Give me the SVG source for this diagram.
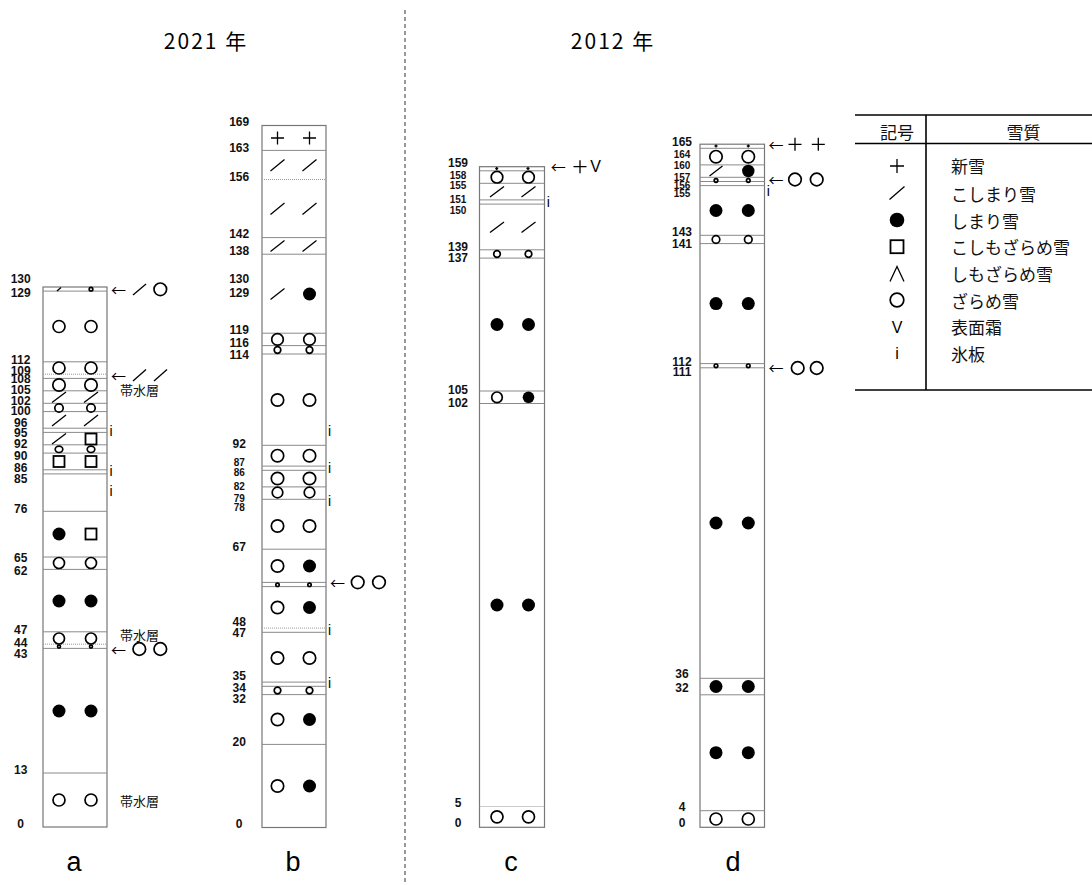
<svg xmlns="http://www.w3.org/2000/svg" width="1092" height="885" viewBox="0 0 1092 885">
<style>
.box{fill:none;stroke:#777;stroke-width:1.2}
.ln{stroke:#8a8a8a;stroke-width:1}
.dt{stroke:#999;stroke-width:1;stroke-dasharray:1 1}
.o{fill:none;stroke:#000;stroke-width:1.7}
.f{fill:#000}
.s{stroke:#000;stroke-width:1.3;fill:none}
.sq{fill:none;stroke:#000;stroke-width:1.8}
.lb{font-family:"Liberation Sans",Arial,sans-serif;font-size:12px;font-weight:bold;text-anchor:middle;dominant-baseline:central;fill:#111}
.sm{font-size:10px}
.jp{font-family:"Noto Sans CJK JP",sans-serif;dominant-baseline:central;fill:#111}
.ar{font-family:"Noto Sans CJK JP",sans-serif;font-size:15px;text-anchor:middle;dominant-baseline:central}
.ii{font-family:"Liberation Sans",Arial,sans-serif;font-size:14px;text-anchor:middle;dominant-baseline:central}
.big{font-family:"Liberation Sans",Arial,sans-serif;font-size:27px;text-anchor:middle}
.tt{font-family:"Noto Sans CJK JP",sans-serif;font-size:21px;letter-spacing:2px;text-anchor:middle;dominant-baseline:central}
.tb{stroke:#000;stroke-width:1.6}
</style>
<rect width="1092" height="885" fill="#fff"/>

<g id="titles">
<text class="tt" x="206" y="40">2021 年</text>
<text class="tt" x="613" y="40">2012 年</text>
<line x1="405" y1="10" x2="405" y2="885" stroke="#333" stroke-width="1" stroke-dasharray="4 3"/>
</g>

<g id="col-a">
<rect class="box" x="43" y="287" width="64" height="540"/>
<line class="ln" x1="43" x2="107" y1="291.1" y2="291.1"/>
<line class="ln" x1="43" x2="107" y1="361.8" y2="361.8"/>
<line class="dt" x1="43" x2="107" y1="374.2" y2="374.2"/>
<line class="ln" x1="43" x2="107" y1="378.4" y2="378.4"/>
<line class="ln" x1="43" x2="107" y1="390.8" y2="390.8"/>
<line class="ln" x1="43" x2="107" y1="403.3" y2="403.3"/>
<line class="ln" x1="43" x2="107" y1="411.6" y2="411.6"/>
<line class="ln" x1="43" x2="107" y1="428.2" y2="428.2"/>
<line class="ln" x1="43" x2="107" y1="432.4" y2="432.4"/>
<line class="ln" x1="43" x2="107" y1="444.8" y2="444.8"/>
<line class="ln" x1="43" x2="107" y1="453.1" y2="453.1"/>
<line class="ln" x1="43" x2="107" y1="469.8" y2="469.8"/>
<line class="ln" x1="43" x2="107" y1="473.9" y2="473.9"/>
<line class="ln" x1="43" x2="107" y1="511.3" y2="511.3"/>
<line class="ln" x1="43" x2="107" y1="557" y2="557"/>
<line class="ln" x1="43" x2="107" y1="569.4" y2="569.4"/>
<line class="ln" x1="43" x2="107" y1="631.8" y2="631.8"/>
<line class="dt" x1="43" x2="107" y1="644.2" y2="644.2"/>
<line class="ln" x1="43" x2="107" y1="648.4" y2="648.4"/>
<line class="ln" x1="43" x2="107" y1="773" y2="773"/>
<line class="s" x1="57" y1="291" x2="61" y2="287.5" stroke-width="0.8"/>
<circle class="o" cx="91" cy="289.2" r="1.8" stroke-width="0.8"/>
<circle class="o" cx="59" cy="326.5" r="6"/><circle class="o" cx="91" cy="326.5" r="6"/>
<circle class="o" cx="59" cy="368" r="6"/><circle class="o" cx="91" cy="368" r="6"/>
<circle class="o" cx="59" cy="385" r="6.2"/><circle class="o" cx="91" cy="385" r="6.2"/>
<line class="s" x1="52" y1="402.5" x2="66" y2="392"/><line class="s" x1="84" y1="402.5" x2="98" y2="392"/>
<circle class="o" cx="59" cy="408" r="4.2"/><circle class="o" cx="91" cy="408" r="4.2"/>
<line class="s" x1="52" y1="426" x2="66" y2="415"/><line class="s" x1="84" y1="426" x2="98" y2="415"/>
<line class="s" x1="52" y1="444" x2="66" y2="433.5"/>
<rect class="sq" x="85.5" y="433.5" width="11" height="11"/>
<ellipse class="o" cx="59" cy="449.3" rx="3.8" ry="3.2" stroke-width="1.4"/><ellipse class="o" cx="91" cy="449.3" rx="3.8" ry="3.2" stroke-width="1.4"/>
<rect class="sq" x="53.5" y="456" width="11" height="11"/><rect class="sq" x="85.5" y="456" width="11" height="11"/>
<circle class="f" cx="59" cy="534" r="6.5"/>
<rect class="sq" x="85.5" y="528.5" width="11" height="11"/>
<circle class="o" cx="59" cy="563" r="5.5"/><circle class="o" cx="91" cy="563" r="5.5"/>
<circle class="f" cx="59" cy="601" r="6.5"/><circle class="f" cx="91" cy="601" r="6.5"/>
<circle class="o" cx="59" cy="638.5" r="5.5"/><circle class="o" cx="91" cy="638.5" r="5.5"/>
<circle class="o" cx="59" cy="646.6" r="1.5" stroke-width="0.8"/><circle class="o" cx="91" cy="646.6" r="1.5" stroke-width="0.8"/>
<circle class="f" cx="59" cy="711" r="6.5"/><circle class="f" cx="91" cy="711" r="6.5"/>
<circle class="o" cx="59" cy="800" r="6"/><circle class="o" cx="91" cy="800" r="6"/>
<text class="ii" x="111" y="431">i</text>
<text class="ii" x="111" y="471">i</text>
<text class="ii" x="111" y="491">i</text>
<text class="lb" x="20.7" y="279">130</text>
<text class="lb" x="20.7" y="292.7">129</text>
<text class="lb" x="20.7" y="360">112</text>
<text class="lb" x="20.7" y="370.7">109</text>
<text class="lb" x="20.7" y="379">108</text>
<text class="lb" x="20.7" y="390">105</text>
<text class="lb" x="20.7" y="400.7">102</text>
<text class="lb" x="20.7" y="410.7">100</text>
<text class="lb" x="20.7" y="422.7">96</text>
<text class="lb" x="20.7" y="433.3">95</text>
<text class="lb" x="20.7" y="444.3">92</text>
<text class="lb" x="20.7" y="455.7">90</text>
<text class="lb" x="20.7" y="468.3">86</text>
<text class="lb" x="20.7" y="479">85</text>
<text class="lb" x="20.7" y="509">76</text>
<text class="lb" x="20.7" y="558.3">65</text>
<text class="lb" x="20.7" y="571">62</text>
<text class="lb" x="20.7" y="630">47</text>
<text class="lb" x="20.7" y="642.7">44</text>
<text class="lb" x="20.7" y="654.3">43</text>
<text class="lb" x="20.7" y="770">13</text>
<text class="lb" x="20.7" y="824">0</text>
<text class="ar" x="118.5" y="289">←</text>
<line class="s" x1="133" y1="295" x2="146" y2="284"/>
<circle class="o" cx="160.3" cy="289.3" r="6.3"/>
<text class="ar" x="118.5" y="375">←</text>
<line class="s" x1="133" y1="381" x2="146" y2="369.5"/>
<line class="s" x1="154" y1="381" x2="167" y2="369.5"/>
<text class="jp" x="120" y="389" font-size="13">帯水層</text>
<text class="jp" x="120" y="634" font-size="13">帯水層</text>
<text class="ar" x="118.5" y="649">←</text>
<circle class="o" cx="139.3" cy="649" r="6.3"/><circle class="o" cx="160.3" cy="649" r="6.3"/>
<text class="jp" x="120" y="800" font-size="13">帯水層</text>
<text class="big" x="74" y="871">a</text>
</g>

<g id="col-b">
<rect class="box" x="262" y="125.5" width="64" height="702"/>
<line class="ln" x1="262" x2="326" y1="150.4" y2="150.4"/>
<line class="dt" x1="262" x2="326" y1="179.5" y2="179.5"/>
<line class="ln" x1="262" x2="326" y1="237.6" y2="237.6"/>
<line class="ln" x1="262" x2="326" y1="254.2" y2="254.2"/>
<line class="ln" x1="262" x2="326" y1="333.2" y2="333.2"/>
<line class="ln" x1="262" x2="326" y1="345.6" y2="345.6"/>
<line class="ln" x1="262" x2="326" y1="354" y2="354"/>
<line class="ln" x1="262" x2="326" y1="445.3" y2="445.3"/>
<line class="ln" x1="262" x2="326" y1="466.1" y2="466.1"/>
<line class="ln" x1="262" x2="326" y1="470.3" y2="470.3"/>
<line class="ln" x1="262" x2="326" y1="486.9" y2="486.9"/>
<line class="ln" x1="262" x2="326" y1="499.3" y2="499.3"/>
<line class="ln" x1="262" x2="326" y1="549.2" y2="549.2"/>
<line class="ln" x1="262" x2="326" y1="582.4" y2="582.4"/>
<line class="ln" x1="262" x2="326" y1="586.6" y2="586.6"/>
<line class="dt" x1="262" x2="326" y1="628.1" y2="628.1"/>
<line class="ln" x1="262" x2="326" y1="632.3" y2="632.3"/>
<line class="ln" x1="262" x2="326" y1="682.1" y2="682.1"/>
<line class="ln" x1="262" x2="326" y1="686.3" y2="686.3"/>
<line class="ln" x1="262" x2="326" y1="694.6" y2="694.6"/>
<line class="ln" x1="262" x2="326" y1="744.4" y2="744.4"/>
<path class="s" d="M271 138h13M277.5 131.5v13M303 138h13M309.5 131.5v13"/>
<line class="s" x1="270.5" y1="171" x2="284.5" y2="159.5"/><line class="s" x1="302.5" y1="171" x2="316.5" y2="159.5"/>
<line class="s" x1="270.5" y1="214.5" x2="284.5" y2="203"/><line class="s" x1="302.5" y1="214.5" x2="316.5" y2="203"/>
<line class="s" x1="270.5" y1="251.5" x2="284.5" y2="240.5"/><line class="s" x1="302.5" y1="251.5" x2="316.5" y2="240.5"/>
<line class="s" x1="270.5" y1="299.5" x2="284.5" y2="288.5"/>
<circle class="f" cx="309.5" cy="294" r="6.5"/>
<circle class="o" cx="277.5" cy="339.4" r="5.8"/><circle class="o" cx="309.5" cy="339.4" r="5.8"/>
<circle class="o" cx="277.5" cy="350" r="3.3" stroke-width="1.3"/><circle class="o" cx="309.5" cy="350" r="3.3" stroke-width="1.3"/>
<circle class="o" cx="277.5" cy="400" r="6.2"/><circle class="o" cx="309.5" cy="400" r="6.2"/>
<circle class="o" cx="277.5" cy="455.7" r="6.2"/><circle class="o" cx="309.5" cy="455.7" r="6.2"/>
<circle class="o" cx="277.5" cy="478.5" r="6.2"/><circle class="o" cx="309.5" cy="478.5" r="6.2"/>
<circle class="o" cx="277.5" cy="492.5" r="5.3"/><circle class="o" cx="309.5" cy="492.5" r="5.3"/>
<circle class="o" cx="277.5" cy="526" r="6.2"/><circle class="o" cx="309.5" cy="526" r="6.2"/>
<circle class="o" cx="277.5" cy="566" r="6.2"/><circle class="f" cx="309.5" cy="566" r="6.5"/>
<circle class="o" cx="277.5" cy="584.8" r="1.7" stroke-width="0.8"/><circle class="o" cx="309.5" cy="584.8" r="1.7" stroke-width="0.8"/>
<circle class="o" cx="277.5" cy="607.5" r="6.2"/><circle class="f" cx="309.5" cy="607.5" r="6.5"/>
<circle class="o" cx="277.5" cy="658" r="6.2"/><circle class="o" cx="309.5" cy="658" r="6.2"/>
<circle class="o" cx="277.5" cy="690.5" r="3.3" stroke-width="1.3"/><circle class="o" cx="309.5" cy="690.5" r="3.3" stroke-width="1.3"/>
<circle class="o" cx="277.5" cy="719.5" r="6.2"/><circle class="f" cx="309.5" cy="719.5" r="6.5"/>
<circle class="o" cx="277.5" cy="786" r="6.2"/><circle class="f" cx="309.5" cy="786" r="6.5"/>
<text class="ii" x="329.5" y="431">i</text>
<text class="ii" x="329.5" y="468">i</text>
<text class="ii" x="329.5" y="501">i</text>
<text class="ii" x="329.5" y="630">i</text>
<text class="ii" x="329.5" y="683">i</text>
<text class="lb" x="239.2" y="122.3">169</text>
<text class="lb" x="239.2" y="147.7">163</text>
<text class="lb" x="239.2" y="176.7">156</text>
<text class="lb" x="239.2" y="234">142</text>
<text class="lb" x="239.2" y="251">138</text>
<text class="lb" x="239.2" y="279.3">130</text>
<text class="lb" x="239.2" y="293.3">129</text>
<text class="lb" x="239.2" y="330">119</text>
<text class="lb" x="239.2" y="342.7">116</text>
<text class="lb" x="239.2" y="355">114</text>
<text class="lb" x="239.2" y="444">92</text>
<text class="lb sm" x="239.2" y="462.3">87</text>
<text class="lb sm" x="239.2" y="472.7">86</text>
<text class="lb sm" x="239.2" y="486.7">82</text>
<text class="lb sm" x="239.2" y="498.3">79</text>
<text class="lb sm" x="239.2" y="507.7">78</text>
<text class="lb" x="239.2" y="546.7">67</text>
<text class="lb" x="239.2" y="621.7">48</text>
<text class="lb" x="239.2" y="633.3">47</text>
<text class="lb" x="239.2" y="676">35</text>
<text class="lb" x="239.2" y="688.3">34</text>
<text class="lb" x="239.2" y="699.3">32</text>
<text class="lb" x="239.2" y="741.7">20</text>
<text class="lb" x="239.2" y="824.3">0</text>
<text class="ar" x="337.5" y="582.3">←</text>
<circle class="o" cx="357.7" cy="582.3" r="6.3"/><circle class="o" cx="379" cy="582.3" r="6.3"/>
<text class="big" x="293" y="871">b</text>
</g>

<g id="col-c">
<rect class="box" x="479.5" y="166.7" width="65" height="660.6"/>
<line class="ln" x1="479.5" x2="544.5" y1="170.8" y2="170.8"/>
<line class="ln" x1="479.5" x2="544.5" y1="183.3" y2="183.3"/>
<line class="ln" x1="479.5" x2="544.5" y1="199.9" y2="199.9"/>
<line class="ln" x1="479.5" x2="544.5" y1="204.1" y2="204.1"/>
<line class="ln" x1="479.5" x2="544.5" y1="249.8" y2="249.8"/>
<line class="ln" x1="479.5" x2="544.5" y1="258.1" y2="258.1"/>
<line class="ln" x1="479.5" x2="544.5" y1="391" y2="391"/>
<line class="ln" x1="479.5" x2="544.5" y1="403.5" y2="403.5"/>
<line class="dt" x1="479.5" x2="544.5" y1="806.5" y2="806.5"/>
<path class="s" stroke-width="0.7" d="M495.2 168.5h3M496.7 167v3M526.5 168.5h3M528 167v3"/>
<circle class="o" cx="497" cy="177.2" r="5.8" stroke-width="2"/><circle class="o" cx="528.5" cy="177.2" r="5.8" stroke-width="2"/>
<line class="s" x1="490" y1="197" x2="504" y2="186.5"/><line class="s" x1="521.5" y1="197" x2="535.5" y2="186.5"/>
<line class="s" x1="490" y1="232.5" x2="504" y2="222"/><line class="s" x1="521.5" y1="232.5" x2="535.5" y2="222"/>
<circle class="o" cx="497" cy="254" r="3.3" stroke-width="1.3"/><circle class="o" cx="528.5" cy="254" r="3.3" stroke-width="1.3"/>
<circle class="f" cx="497" cy="324.5" r="6.5"/><circle class="f" cx="528.5" cy="324.5" r="6.5"/>
<circle class="o" cx="497" cy="397.3" r="5.3"/><circle class="f" cx="528.5" cy="397.3" r="5.8"/>
<circle class="f" cx="497" cy="605" r="6.5"/><circle class="f" cx="528.5" cy="605" r="6.5"/>
<circle class="o" cx="497" cy="816.8" r="6"/><circle class="o" cx="528.5" cy="816.8" r="6"/>
<text class="ii" x="548.3" y="201.5">i</text>
<text class="lb" x="458" y="163.3">159</text>
<text class="lb sm" x="458" y="175">158</text>
<text class="lb sm" x="458" y="185">155</text>
<text class="lb sm" x="458" y="199.3">151</text>
<text class="lb sm" x="458" y="210">150</text>
<text class="lb" x="458" y="246.7">139</text>
<text class="lb" x="458" y="258.3">137</text>
<text class="lb" x="458" y="390">105</text>
<text class="lb" x="458" y="402.7">102</text>
<text class="lb" x="458" y="803.3">5</text>
<text class="lb" x="458" y="823.3">0</text>
<text class="ar" x="558.3" y="166.7">←</text>
<path class="s" stroke-width="1.5" d="M573.5 166.7h13M580 160.2v13"/>
<text x="595.7" y="166.7" font-family="Liberation Sans, Arial, sans-serif" font-size="16" text-anchor="middle" dominant-baseline="central">V</text>
<text class="big" x="511" y="871">c</text>
</g>

<g id="col-d">
<rect class="box" x="700" y="144.2" width="64.5" height="683.1"/>
<line class="ln" x1="700" x2="764.5" y1="148.3" y2="148.3"/>
<line class="ln" x1="700" x2="764.5" y1="164.9" y2="164.9"/>
<line class="ln" x1="700" x2="764.5" y1="177.3" y2="177.3"/>
<line class="ln" x1="700" x2="764.5" y1="181.5" y2="181.5"/>
<line class="ln" x1="700" x2="764.5" y1="185.6" y2="185.6"/>
<line class="ln" x1="700" x2="764.5" y1="235.3" y2="235.3"/>
<line class="ln" x1="700" x2="764.5" y1="243.6" y2="243.6"/>
<line class="ln" x1="700" x2="764.5" y1="363.6" y2="363.6"/>
<line class="ln" x1="700" x2="764.5" y1="367.8" y2="367.8"/>
<line class="ln" x1="700" x2="764.5" y1="678.3" y2="678.3"/>
<line class="ln" x1="700" x2="764.5" y1="694.8" y2="694.8"/>
<line class="ln" x1="700" x2="764.5" y1="810.7" y2="810.7"/>
<path class="s" stroke-width="0.7" d="M714.5 146h3M716 144.5v3M746.8 146h3M748.3 144.5v3"/>
<circle class="o" cx="716" cy="156.7" r="6.2" stroke-width="1.9"/><circle class="o" cx="748.3" cy="156.7" r="6.2" stroke-width="1.9"/>
<line class="s" x1="709.5" y1="176" x2="722.5" y2="166"/>
<circle class="f" cx="748.3" cy="171" r="6.2"/>
<circle class="o" cx="716" cy="180.5" r="1.8" stroke-width="0.9"/><circle class="o" cx="748.3" cy="180.5" r="1.8" stroke-width="0.9"/>
<circle class="f" cx="716" cy="210.5" r="6.5"/><circle class="f" cx="748.3" cy="210.5" r="6.5"/>
<circle class="o" cx="716" cy="239.5" r="3.8" stroke-width="1.4"/><circle class="o" cx="748.3" cy="239.5" r="3.8" stroke-width="1.4"/>
<circle class="f" cx="716" cy="303.6" r="6.5"/><circle class="f" cx="748.3" cy="303.6" r="6.5"/>
<circle class="o" cx="716" cy="365.8" r="1.8" stroke-width="0.9"/><circle class="o" cx="748.3" cy="365.8" r="1.8" stroke-width="0.9"/>
<circle class="f" cx="716" cy="523" r="6.5"/><circle class="f" cx="748.3" cy="523" r="6.5"/>
<circle class="f" cx="716" cy="686.5" r="6.5"/><circle class="f" cx="748.3" cy="686.5" r="6.5"/>
<circle class="f" cx="716" cy="752.7" r="6.5"/><circle class="f" cx="748.3" cy="752.7" r="6.5"/>
<circle class="o" cx="716" cy="819" r="6"/><circle class="o" cx="748.3" cy="819" r="6"/>
<text class="ii" x="768.3" y="190.5">i</text>
<text class="lb" x="682" y="141.7">165</text>
<text class="lb sm" x="682" y="154">164</text>
<text class="lb sm" x="682" y="165">160</text>
<text class="lb sm" x="682" y="177.3">157</text>
<text class="lb sm" x="682" y="185.7">156</text>
<text class="lb sm" x="682" y="193.3">155</text>
<text class="lb" x="682" y="231.7">143</text>
<text class="lb" x="682" y="244.3">141</text>
<text class="lb" x="682" y="361.7">112</text>
<text class="lb" x="682" y="372">111</text>
<text class="lb" x="682" y="674">36</text>
<text class="lb" x="682" y="688">32</text>
<text class="lb" x="682" y="806.7">4</text>
<text class="lb" x="682" y="823.3">0</text>
<text class="ar" x="776" y="144.3">←</text>
<path class="s" stroke-width="1.5" d="M788.5 144.3h13M795 137.8v13M811.8 144.3h13M818.3 137.8v13"/>
<text class="ar" x="776" y="179.3">←</text>
<circle class="o" cx="795" cy="179.5" r="6.3"/><circle class="o" cx="816.7" cy="179.5" r="6.3"/>
<text class="ar" x="776" y="367.5">←</text>
<circle class="o" cx="797.7" cy="368" r="6.3"/><circle class="o" cx="816.7" cy="368" r="6.3"/>
<text class="big" x="733" y="871">d</text>
</g>

<g id="legend">
<line class="tb" x1="855" y1="115" x2="1092" y2="115"/>
<line class="tb" x1="855" y1="143.5" x2="1092" y2="143.5"/>
<line class="tb" x1="855" y1="390" x2="1092" y2="390" stroke-width="2"/>
<line class="tb" x1="926" y1="115" x2="926" y2="390"/>
<text class="jp" x="897" y="131" font-size="17" text-anchor="middle">記号</text>
<text class="jp" x="1023.5" y="131" font-size="17" text-anchor="middle">雪質</text>
<path class="s" stroke-width="1.5" d="M890 166h14M897 159v14"/>
<line class="s" stroke-width="1.5" x1="889.5" y1="199.5" x2="904.5" y2="186.5"/>
<circle class="f" cx="897" cy="220" r="7.3"/>
<rect class="sq" x="890.5" y="240.2" width="13" height="13" stroke-width="1.6"/>
<polyline class="s" stroke-width="1.5" points="890,281.5 897,266.5 904,281.5"/>
<circle class="o" cx="897" cy="300" r="6.8" stroke-width="1.6"/>
<text x="897" y="327" font-family="Liberation Sans, Arial, sans-serif" font-size="16" text-anchor="middle" dominant-baseline="central">V</text>
<text x="897" y="353.3" font-family="Liberation Sans, Arial, sans-serif" font-size="16" text-anchor="middle" dominant-baseline="central">i</text>
<text class="jp" x="951" y="165" font-size="17">新雪</text>
<text class="jp" x="951" y="193.3" font-size="17">こしまり雪</text>
<text class="jp" x="951" y="220" font-size="17">しまり雪</text>
<text class="jp" x="951" y="246.7" font-size="17">こしもざらめ雪</text>
<text class="jp" x="951" y="273.3" font-size="17">しもざらめ雪</text>
<text class="jp" x="951" y="300" font-size="17">ざらめ雪</text>
<text class="jp" x="951" y="326.7" font-size="17">表面霜</text>
<text class="jp" x="951" y="353.3" font-size="17">氷板</text>
</g>
</svg>
